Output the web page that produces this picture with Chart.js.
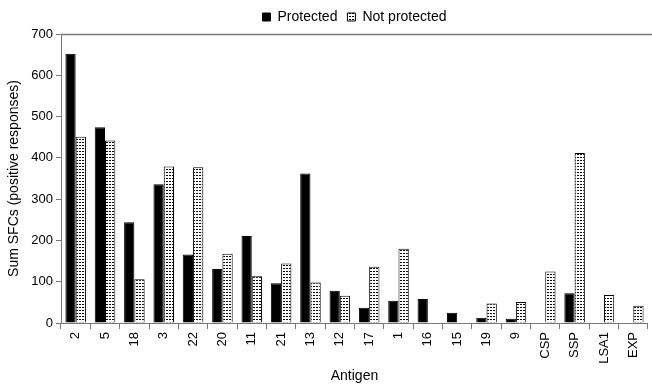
<!DOCTYPE html>
<html>
<head>
<meta charset="utf-8">
<script src="https://cdn.jsdelivr.net/npm/chart.js@4"></script>
<style>
  body { margin: 0; background: #fff; }
  #wrap { width: 652px; height: 387px; }
</style>
</head>
<body>
<div id="wrap"><canvas id="myChart"></canvas></div>
<script>
var antigens = ['2', '5', '18', '3', '22', '20', '11', '21', '13', '12', '17', '1', '16', '15', '19', '9', 'CSP', 'SSP', 'LSA1', 'EXP'];
var protectedSum = [652, 474, 244, 336, 166, 131, 211, 96, 362, 78, 37, 54, 58, 25, 13, 10, 0, 72, 0, 0];
var notProtectedSum = [451, 442, 106, 379, 377, 168, 113, 144, 98, 66, 136, 180, 0, 0, 47, 51, 125, 412, 68, 42];
var yTicks = [0, 100, 200, 300, 400, 500, 600, 700];

// white with small black dots, like the print pattern
function dotPattern() {
    var c = document.createElement('canvas');
    c.width = 3;
    c.height = 3;
    var g = c.getContext('2d');
    g.fillStyle = '#fff';
    g.fillRect(0, 0, 3, 3);
    g.fillStyle = '#000';
    g.fillRect(1, 1, 2, 1);
    return g.createPattern(c, 'repeat');
}

// grey line along the top of the plot area
var topLine = {
    id: 'topLine',
    afterDraw: function (chart) {
        var a = chart.chartArea;
        var ctx = chart.ctx;
        ctx.save();
        ctx.strokeStyle = '#777';
        ctx.lineWidth = 1.5;
        ctx.beginPath();
        ctx.moveTo(a.left, a.top + 0.5);
        ctx.lineTo(chart.width, a.top + 0.5);
        ctx.stroke();
        ctx.restore();
    }
};

Chart.defaults.font.family = '"Liberation Sans", Arial, sans-serif';
Chart.defaults.color = '#000';

var ctx = document.getElementById('myChart').getContext('2d');
var myChart = new Chart(ctx, {
    type: 'bar',
    data: {
        labels: antigens,
        datasets: [{
            label: 'Protected',
            data: protectedSum,
            backgroundColor: '#000',
            borderColor: '#000',
            borderWidth: 1,
            barPercentage: 1,
            categoryPercentage: 0.7
        }, {
            label: 'Not protected',
            data: notProtectedSum,
            backgroundColor: dotPattern(),
            borderColor: '#000',
            borderWidth: 1,
            barPercentage: 1,
            categoryPercentage: 0.7
        }]
    },
    options: {
        responsive: true,
        maintainAspectRatio: false,
        animation: false,
        layout: { padding: { left: 6, right: 0, top: 0, bottom: 2 } },
        plugins: {
            legend: {
                position: 'top',
                fullSize: false,
                labels: {
                    boxWidth: 8,
                    boxHeight: 8,
                    padding: 10,
                    font: { size: 14 }
                }
            },
            tooltip: { enabled: false }
        },
        scales: {
            x: {
                afterFit: function (axis) { axis.height = 62; },
                grid: {
                    offset: true,
                    drawOnChartArea: false,
                    color: '#777',
                    tickLength: 6
                },
                border: { color: '#777' },
                ticks: {
                    minRotation: 90,
                    maxRotation: 90,
                    autoSkip: false,
                    font: { size: 13 },
                    padding: 3
                },
                title: {
                    display: true,
                    text: 'Antigen',
                    font: { size: 14 },
                    padding: { top: 2, bottom: 0 }
                }
            },
            y: {
                min: 0,
                max: 700,
                afterFit: function (axis) { axis.width = 55; },
                afterBuildTicks: function (axis) {
                    axis.ticks = yTicks.map(function (v) { return { value: v }; });
                },
                grid: {
                    drawOnChartArea: false,
                    color: '#777',
                    tickLength: 5
                },
                border: { color: '#777' },
                ticks: {
                    font: { size: 13 },
                    padding: 3
                },
                title: {
                    display: true,
                    text: 'Sum SFCs (positive responses)',
                    font: { size: 14 },
                    padding: { top: 0, bottom: 2 }
                }
            }
        }
    },
    plugins: [topLine]
});
</script>
</body>
</html>
